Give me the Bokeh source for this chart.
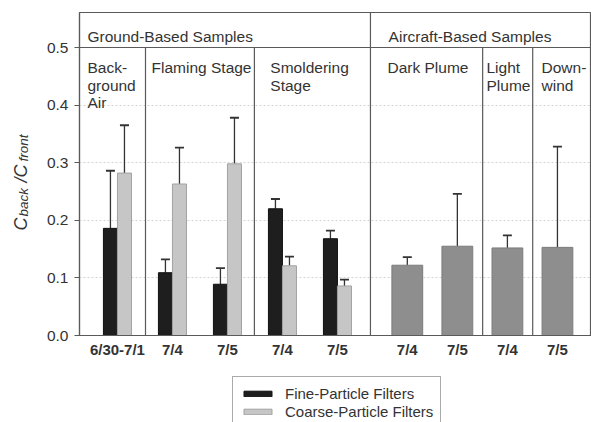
import math
from bokeh.plotting import figure
from bokeh.layouts import row, column
from bokeh.models import (Range1d, FixedTicker, Legend, LegendItem,
                          ColumnDataSource, CustomJSTickFormatter)
from bokeh.core.properties import value
from bokeh.embed import file_html
from bokeh.resources import INLINE

# ---------------- data ----------------
ground_dates = ["6/30-7/1", "7/4", "7/5", "7/4", "7/5"]
fine_vals = [0.186, 0.109, 0.089, 0.220, 0.168]
fine_upper = [0.286, 0.132, 0.117, 0.237, 0.182]
coarse_vals = [0.282, 0.263, 0.298, 0.121, 0.086]
coarse_upper = [0.365, 0.326, 0.378, 0.137, 0.097]

air_dates = ["7/4", "7/5", "7/4", "7/5"]
air_vals = [0.122, 0.155, 0.152, 0.153]
air_upper = [0.136, 0.246, 0.174, 0.328]

group_titles = ["Ground-Based Samples", "Aircraft-Based Samples"]
panel_titles = ["Back-\nground\nAir", "Flaming Stage", "Smoldering\nStage",
                "Dark Plume", "Light\nPlume", "Down-\nwind"]
y_ticks = [0.0, 0.1, 0.2, 0.3, 0.4, 0.5]
legend_labels = ["Fine-Particle Filters", "Coarse-Particle Filters"]
ylabel_parts = ["C", "back", "/C", "front"]

# ---------------- layout constants ----------------
FONT = "Liberation Sans"
TXT = "#333333"
LINE = "#5a5a5a"
FINE_FILL, FINE_LINE = "#1e1e1e", "#111111"
COARSE_FILL, COARSE_LINE = "#c6c6c6", "#a2a2a2"
AIR_FILL, AIR_LINE = "#8e8e8e", "#7c7c7c"
EB = "#333333"

TOTAL_W, TOTAL_H = 591, 422
LAB_W = 34                    # left strip holding the y-axis title
MAIN_H = 368                  # main plot height; legend strip below
PX = 55.0                     # pixels per x unit
W = TOTAL_W - LAB_W
ML, MT, MB = 79 - LAB_W, 12, MAIN_H - 335
frame_w = W - ML
frame_h = MAIN_H - MT - MB
y_top = 0.5 * frame_h / 288.0
x_end = frame_w / PX

g_centers = [0.69 + i for i in range(len(ground_dates))]
a_centers = [5.96 + 0.91 * j for j in range(len(air_dates))]
bw = 0.255
aw = 0.56
cap = 0.082

panel_div = [1.2, 3.18, 7.33, 8.24]
group_div = 5.29
panel_x = [0.145, 1.31, 3.47, 5.6, 7.4, 8.4]
group_x = [0.145, 5.62]

p = figure(width=W, height=MAIN_H, output_backend="svg", toolbar_location=None,
           x_range=Range1d(0, x_end), y_range=Range1d(0, y_top),
           min_border_left=ML, min_border_right=0, min_border_top=MT,
           min_border_bottom=MB)
p.outline_line_color = LINE
p.outline_line_width = 1.2
p.background_fill_color = "white"
p.border_fill_color = "white"

# grid
p.xgrid.visible = False
p.ygrid.ticker = FixedTicker(ticks=[t for t in y_ticks if 0 < t < 0.5])
p.ygrid.grid_line_color = "#d4d4d4"
p.ygrid.grid_line_dash = "2 2"
p.ygrid.grid_line_width = 1

# y axis
ya = p.yaxis[0]
ya.ticker = FixedTicker(ticks=y_ticks)
ya.formatter = CustomJSTickFormatter(code="return tick.toFixed(1);")
ya.major_tick_out = 5
ya.major_tick_in = 0
ya.minor_tick_line_color = None
ya.major_tick_line_color = LINE
ya.axis_line_color = LINE
ya.axis_line_width = 1.2
ya.major_label_text_font = FONT
ya.major_label_text_font_size = "15.5px"
ya.major_label_text_color = TXT
ya.major_label_standoff = 6

# x axis
all_centers = g_centers + a_centers
all_dates = ground_dates + air_dates
xa = p.xaxis[0]
xa.ticker = FixedTicker(ticks=all_centers)
xa.major_label_overrides = {c: d for c, d in zip(all_centers, all_dates)}
xa.major_tick_out = 0
xa.major_tick_in = 0
xa.minor_tick_line_color = None
xa.axis_line_color = LINE
xa.axis_line_width = 1.2
xa.major_label_text_font = FONT
xa.major_label_text_font_style = "bold"
xa.major_label_text_font_size = "15px"
xa.major_label_text_color = TXT
xa.major_label_standoff = 5

# bars + error bars
fine_src = ColumnDataSource(dict(x=[c - bw / 2 for c in g_centers], top=fine_vals, up=fine_upper))
coarse_src = ColumnDataSource(dict(x=[c + bw / 2 for c in g_centers], top=coarse_vals, up=coarse_upper))
air_src = ColumnDataSource(dict(x=a_centers, top=air_vals, up=air_upper))

for src in (fine_src, coarse_src, air_src):
    p.segment(x0="x", y0="top", x1="x", y1="up", source=src, line_color=EB, line_width=1.3)
    d = src.data
    p.segment(x0=[x - cap for x in d["x"]], y0=d["up"], x1=[x + cap for x in d["x"]], y1=d["up"],
              line_color=EB, line_width=1.8)

p.vbar(x="x", top="top", width=bw, bottom=0, source=fine_src,
       fill_color=FINE_FILL, line_color=FINE_LINE, line_width=1)
p.vbar(x="x", top="top", width=bw, bottom=0, source=coarse_src,
       fill_color=COARSE_FILL, line_color=COARSE_LINE, line_width=1)
p.vbar(x="x", top="top", width=aw, bottom=0, source=air_src,
       fill_color=AIR_FILL, line_color=AIR_LINE, line_width=1)

# dividers and header line
p.segment(x0=panel_div, y0=[0] * len(panel_div), x1=panel_div, y1=[0.5] * len(panel_div),
          line_color=LINE, line_width=1.2)
p.segment(x0=[group_div], y0=[0], x1=[group_div], y1=[y_top], line_color=LINE, line_width=1.2)
p.segment(x0=[0], y0=[0.5], x1=[x_end], y1=[0.5], line_color=LINE, line_width=1.2)

# header and panel titles
y_px = y_top / frame_h          # data units per pixel
p.text(x=group_x, y=[0.5 + 11.5 * y_px] * 2, text=group_titles,
       text_font=value(FONT), text_font_size="15.5px", text_color=TXT,
       text_baseline="alphabetic", text_align="left")
tx, ty, tt = [], [], []
for x0, t in zip(panel_x, panel_titles):
    for k, line in enumerate(t.split("\n")):
        tx.append(x0)
        ty.append(0.5 - (20 + 17.5 * k) * y_px)
        tt.append(line)
p.text(x=tx, y=ty, text=tt, text_font=value(FONT), text_font_size="15.5px",
       text_color=TXT, text_baseline="alphabetic", text_align="left")

# ---------------- y-axis title strip ----------------
lab = figure(width=LAB_W, height=TOTAL_H, output_backend="svg", toolbar_location=None,
             x_range=Range1d(0, LAB_W), y_range=Range1d(TOTAL_H, 0),
             x_axis_location=None, y_axis_location=None,
             min_border_left=0, min_border_right=0, min_border_top=0, min_border_bottom=0)
lab.grid.visible = False
lab.outline_line_color = None
lab.background_fill_color = "white"
lab.border_fill_color = "white"
big, small = "18px", "13.5px"
lab.text(x=[20, 20], y=[230, 182], text=[ylabel_parts[0], ylabel_parts[2]],
         angle=math.pi / 2, text_font=value(FONT), text_font_size=big,
         text_font_style="italic", text_color=TXT,
         text_align="left", text_baseline="alphabetic")
lab.text(x=[23, 23], y=[216, 161], text=[ylabel_parts[1], ylabel_parts[3]],
         angle=math.pi / 2, text_font=value(FONT), text_font_size=small,
         text_font_style="italic", text_color=TXT,
         text_align="left", text_baseline="alphabetic")

# ---------------- legend strip ----------------
LEG_H = TOTAL_H - MAIN_H
leg = figure(width=W, height=LEG_H, output_backend="svg", toolbar_location=None,
             x_range=Range1d(0, W), y_range=Range1d(0, LEG_H),
             x_axis_location=None, y_axis_location=None,
             min_border_left=0, min_border_right=0, min_border_top=0, min_border_bottom=0)
leg.grid.visible = False
leg.outline_line_color = None
leg.background_fill_color = "white"
leg.border_fill_color = "white"
nan = float("nan")
lf = leg.vbar(x=[nan], top=[nan], width=1, fill_color=FINE_FILL, line_color=FINE_LINE)
lc = leg.vbar(x=[nan], top=[nan], width=1, fill_color=COARSE_FILL, line_color=COARSE_LINE)
legend = Legend(items=[LegendItem(label=legend_labels[0], renderers=[lf]),
                       LegendItem(label=legend_labels[1], renderers=[lc])],
                location=(232 - 79, -6))
legend.border_line_color = "#555555"
legend.border_line_width = 1.2
legend.glyph_width = 35
legend.glyph_height = 7
legend.label_height = 18
legend.label_standoff = 10
legend.padding = 7
legend.spacing = 0
legend.margin = 0
legend.label_text_font = FONT
legend.label_text_font_size = "15px"
legend.label_text_color = TXT
leg.add_layout(legend)

layout = row(lab, column(p, leg, spacing=0), spacing=0)
open("out.html", "w").write(file_html(layout, INLINE))
